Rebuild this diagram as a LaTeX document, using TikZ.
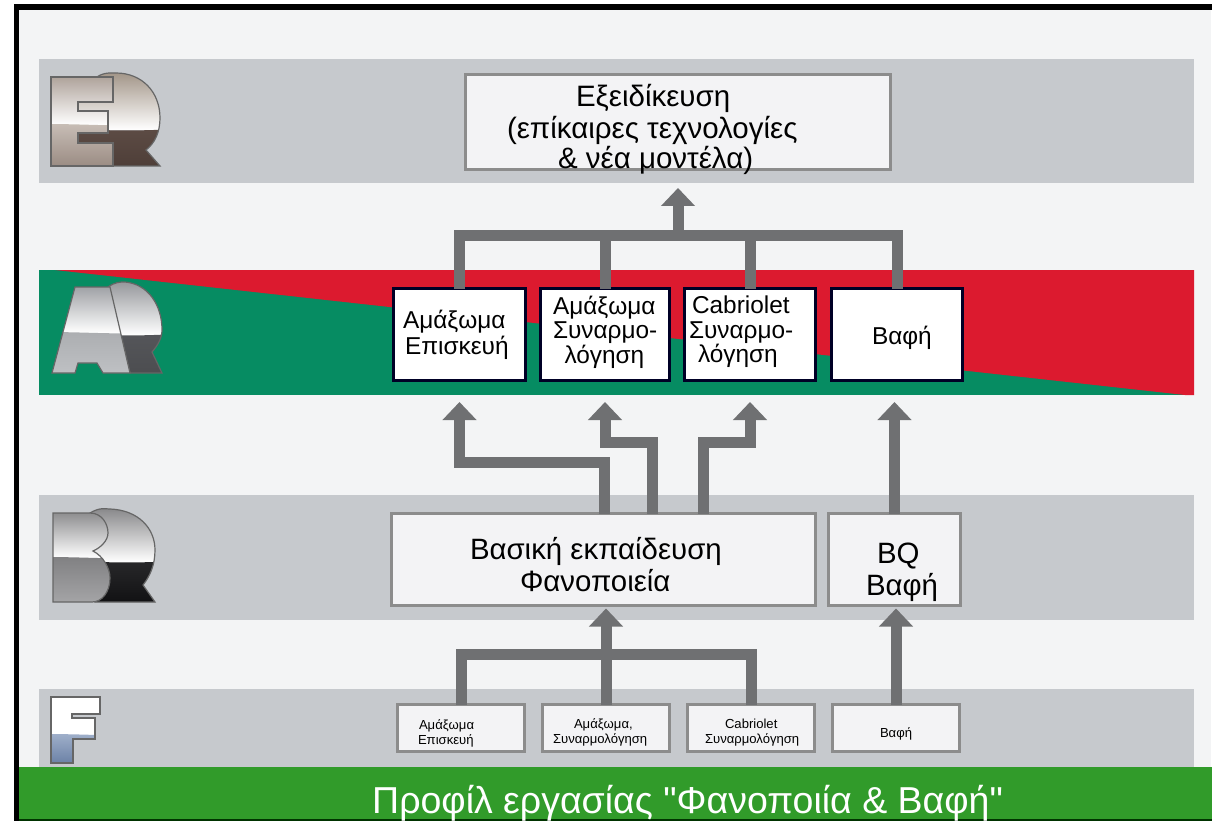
\documentclass[tikz,border=0pt]{standalone}
\usepackage{fontspec}
\setmainfont{Liberation Sans}
\newfontfamily\titleFont{Liberation Sans}
\usetikzlibrary{arrows.meta}
\definecolor{pageBack}{HTML}{F3F4F5}
\definecolor{bandGrey}{HTML}{C6C9CD}
\definecolor{bandRed}{HTML}{DC1A2F}
\definecolor{bandGreen}{HTML}{068C62}
\definecolor{titleGreen}{HTML}{319B2A}
\definecolor{flowGrey}{HTML}{6F7072}
\definecolor{boxFill}{HTML}{F3F3F5}
\newcommand{\boxLines}[4]{\parbox[c][#2][t]{#1}{\vspace*{\dimexpr#3-.7\baselineskip\relax}\strut#4}}
\newcommand{\chromeShape}[7]{%
  \definecolor{chromeTop}{HTML}{#5}\definecolor{chromeMid}{HTML}{#6}\definecolor{chromeLow}{HTML}{#7}%
  \begin{scope}
    \clip #1;
    \shade[top color=chromeTop,bottom color=white] (30,#2) rectangle (175,#3);
    \shade[top color=chromeMid,bottom color=chromeLow] (30,#3) .. controls (70,{#3-3}) and (110,{#3+3}) .. (175,{#3-1}) -- (175,#4) -- (30,#4) -- cycle;
  \end{scope}
  \draw[logoEdge] #1;
}
\tikzset{
  greyBox/.style={anchor=north west,draw=black!45,line width=3pt,fill=boxFill,inner sep=0pt,outer sep=0pt},
  whiteBox/.style={anchor=north west,draw=black!85!blue,line width=3pt,fill=white,inner sep=0pt,outer sep=0pt,font=\fontsize{24.4}{24.5}\selectfont},
  smallBox/.style={greyBox,font=\fontsize{13.1}{14}\selectfont},
  flowLine/.style={draw=flowGrey,line width=11pt},
  flowArrow/.style={flowLine,-{Triangle[width=33pt,length=18pt]}},
  logoEdge/.style={draw=black!60,line width=1.2pt}
}
\begin{document}
\begin{tikzpicture}[x=1pt,y=-1pt]
\useasboundingbox (0,0) rectangle (1212,821);
\fill[white] (0,0) rectangle (1212,821);
\fill[pageBack] (19,10) rectangle (1211,818);
\fill[bandGrey] (39,59) rectangle (1194,183);
\fill[bandGreen] (39,270) rectangle (1194,395);
\fill[bandRed] (55,270) -- (1194,270) -- (1194,395) -- (1185,395) -- cycle;
\fill[bandGrey] (39,495) rectangle (1194,620);
\fill[bandGrey] (39,689) rectangle (1194,768);
\fill[titleGreen] (19,767) rectangle (1212,819);
\fill[black!80!green] (19,819) rectangle (1212,821);
\fill[black] (14,4) rectangle (1212,10);
\fill[black] (14,4) rectangle (19,821);

\chromeShape{(78,78) -- (97,77) .. controls (104,72) and (112,73) .. (116,73) .. controls (142,73) and (160,92) .. (160,118) .. controls (160,132) and (155,143) .. (146,150) -- (160,166) -- (78,166) -- cycle}{73}{130}{167}{A39689}{5D4C45}{4E3E38}
\chromeShape{(51,77) -- (113,77) -- (113,102) -- (78,102) -- (78,111) -- (108,111) -- (108,133) -- (78,133) -- (78,143) -- (113,143) -- (113,166) -- (51,166) -- cycle}{77}{125}{167}{AFA39B}{C9BFB8}{9A8B82}
\chromeShape{(108,287) .. controls (115,282) and (120,282) .. (125,282) .. controls (148,284) and (162,305) .. (162,330) .. controls (162,338) and (158,345) .. (152,352) -- (162,373) -- (130,373) -- cycle}{282}{335}{374}{96989C}{55565A}{4C4D50}
\chromeShape{(75,287) -- (110,287) -- (130,373) -- (103,373) -- (97,363) -- (78,363) -- (75,373) -- (52,373) -- cycle}{287}{333}{374}{A0A2A6}{ABADB0}{BFC1C4}
\chromeShape{(90,513) .. controls (100,507) and (105,509) .. (110,509) .. controls (138,510) and (155,528) .. (155,550) .. controls (155,565) and (150,576) .. (143,585) -- (155,602) -- (95,602) -- cycle}{509}{562}{603}{8A8A8C}{29292B}{111113}
\chromeShape{(53,513) -- (90,513) .. controls (102,513) and (108,524) .. (108,533) .. controls (108,541) and (100,548) .. (93,551) .. controls (103,556) and (110,568) .. (110,578) .. controls (110,592) and (102,602) .. (92,602) -- (53,602) -- cycle}{513}{558}{603}{8E8E90}{7F7F81}{A5A5A7}
\chromeShape{(51,697) -- (100,697) -- (100,714) -- (72,714) -- (72,718) -- (95,718) -- (95,739) -- (73,739) -- (73,763) -- (51,763) -- cycle}{660}{735}{764}{FFFFFF}{A2B2CC}{6A80A5}

\node[greyBox,font=\fontsize{29.5}{29.5}\selectfont] (e) at (465.5,74.5) {\boxLines{425pt}{95pt}{30.5pt}{\hspace*{110.5pt}Εξειδίκευση\\\hspace*{41.5pt}(επίκαιρες τεχνολογίες\\\hspace*{92.5pt}\& νέα μοντέλα)}};

\node[whiteBox] (a1) at (393.5,288.5) {\boxLines{132pt}{92pt}{38.5pt}{\hspace*{9.5pt}Αμάξωμα\\\hspace*{11.5pt}Επισκευή}};
\node[whiteBox] (a2) at (540.5,288.5) {\boxLines{129pt}{92pt}{24.5pt}{\hspace*{12.5pt}Αμάξωμα\\\hspace*{12.5pt}Συναρμο-\\\hspace*{24pt}λόγηση}};
\node[whiteBox] (a3) at (684.5,288.5) {\boxLines{131pt}{92pt}{24.5pt}{\hspace*{7.5pt}Cabriolet\\\hspace*{4.5pt}Συναρμο-\\\hspace*{13.5pt}λόγηση}};
\node[whiteBox] (a4) at (831.5,288.5) {\boxLines{131pt}{92pt}{54.5pt}{\hspace*{40.5pt}Βαφή}};

\node[greyBox,font=\fontsize{29.4}{29}\selectfont] (b) at (391.5,513.5) {\boxLines{424pt}{92pt}{44.5pt}{\hspace*{78.5pt}Βασική εκπαίδευση\\\hspace*{128.5pt}Φανοποιεία}};
\node[greyBox,font=\fontsize{29.4}{29}\selectfont] (bq) at (828.5,513.5) {\boxLines{132pt}{92pt}{49.5pt}{\hspace*{48.5pt}BQ\\\hspace*{37.5pt}Βαφή}};

\node[smallBox] (f1) at (397.5,704.5) {\boxLines{127pt}{47pt}{24.5pt}{\hspace*{21.5pt}Αμάξωμα\\\hspace*{20.5pt}Επισκευή}};
\node[smallBox] (f2) at (542.5,704.5) {\boxLines{127pt}{47pt}{23.5pt}{\hspace*{31.5pt}Αμάξωμα,\\\hspace*{10.5pt}Συναρμολόγηση}};
\node[smallBox] (f3) at (687.5,704.5) {\boxLines{127pt}{47pt}{23.5pt}{\hspace*{37.5pt}Cabriolet\\\hspace*{17.5pt}Συναρμολόγηση}};
\node[smallBox] (f4) at (832.5,704.5) {\boxLines{127pt}{47pt}{32.5pt}{\hspace*{47.5pt}Βαφή}};

\node[anchor=base west,inner sep=0pt,text=white,font=\titleFont\fontsize{37.5}{40}\selectfont] (title) at (372,813) {Προφίλ εργασίας "Φανοποιία \& Βαφή"};

\coordinate (topBus) at (678,235);
\draw[flowLine] (a1.north) |- (topBus) -| (a4.north);
\draw[flowLine] (a2.north) -- (a2.north |- topBus);
\draw[flowLine] (a3.north) -- (a3.north |- topBus);
\draw[flowArrow,shorten >=18.5pt] (topBus) -- (topBus |- e.south);

\coordinate (outOne) at (604.5,513.5);
\coordinate (outTwo) at (652.5,513.5);
\coordinate (outThree) at (703,513.5);
\coordinate (bendOne) at (a1.south |- 0,462);
\coordinate (bendTwo) at (a2.south |- 0,442);
\coordinate (bendThree) at (a3.south |- 0,442);
\draw[flowArrow,shorten >=21.5pt] (outOne) |- (bendOne) -- (bendOne |- a1.south);
\draw[flowArrow,shorten >=21.5pt] (outTwo) |- (bendTwo) -- (bendTwo |- a2.south);
\draw[flowArrow,shorten >=21.5pt] (outThree) |- (bendThree) -- (bendThree |- a3.south);
\draw[flowArrow,shorten >=21.5pt] (bq.north) -- (bq.north |- a4.south);

\coordinate (lowBus) at (606,654);
\draw[flowLine] (f1.north) |- (lowBus) -| (f3.north);
\draw[flowArrow,shorten >=3pt] (f2.north) -- (f2.north |- b.south);
\draw[flowArrow,shorten >=3pt] (f4.north) -- (f4.north |- bq.south);
\end{tikzpicture}
\end{document}
